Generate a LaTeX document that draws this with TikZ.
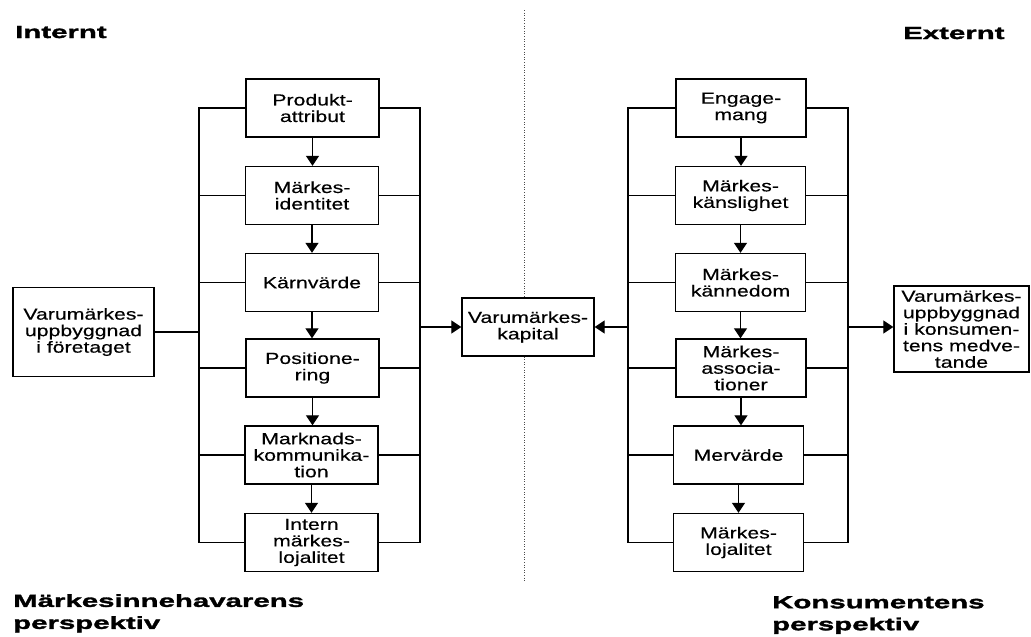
\documentclass[tikz,border=0pt]{standalone}
\usepackage{fontspec}
\usetikzlibrary{arrows.meta}
\newfontfamily\bodyfont{Liberation Sans}[FakeStretch=1.33,FakeBold=0.4]
\newfontfamily\headfont{Liberation Sans Bold}[FakeStretch=1.68,FakeBold=1.8]
\tikzset{
  box/.style={draw, line width=1.3pt, rectangle, minimum width=133pt, minimum height=58pt,
    inner sep=0pt, align=center, font=\bodyfont\fontsize{16}{16.5}\selectfont},
  rbox/.style={box, minimum width=130pt},
  conn/.style={line width=1.1pt},
  arr/.style={conn, -{Triangle[length=10pt,width=13pt]}},
  head/.style={inner sep=0pt, align=left, font=\headfont\fontsize{17.5}{22}\selectfont},
  divider/.style={line width=0.8pt, dash pattern=on 1pt off 1.6pt, black!70}
}
\begin{document}
\begin{tikzpicture}[x=1pt,y=-1pt]
\useasboundingbox (0,0) rectangle (1031,637);
% headings
\node[head, anchor=base west] (hint) at (15,38) {Internt};
\node[head, anchor=base west] (hext) at (903,39) {Externt};
\node[head, anchor=north west] (hmi) at (13,594) {Märkesinnehavarens\\perspektiv};
\node[head, anchor=north west] (hko) at (772,596) {Konsumentens\\perspektiv};
% left column
\node[box] (L1) at (312.5,108) {Produkt-\\attribut};
\node[box] (L2) at (312,195.5) {Märkes-\\identitet};
\node[box] (L3) at (312,282.5) {Kärnvärde};
\node[box] (L4) at (312.5,368) {Positione-\\ring};
\node[box] (L5) at (311.5,455) {Marknads-\\kommunika-\\tion};
\node[box] (L6) at (311.5,542.5) {Intern\\märkes-\\lojalitet};
% right column
\node[rbox] (R1) at (741,108) {Engage-\\mang};
\node[rbox] (R2) at (740.5,195.5) {Märkes-\\känslighet};
\node[rbox] (R3) at (740.5,282.5) {Märkes-\\kännedom};
\node[rbox] (R4) at (741,368) {Märkes-\\associa-\\tioner};
\node[rbox] (R5) at (738.5,455) {Mervärde};
\node[rbox] (R6) at (738.5,542.5) {Märkes-\\lojalitet};
% side and centre boxes
\node[box, minimum width=141pt, minimum height=89pt] (LS) at (83.5,332) {Varumärkes-\\uppbyggnad\\i företaget};
\node[box, minimum width=132pt, minimum height=58pt] (K) at (528,327) {Varumärkes-\\kapital};
\node[box, minimum width=135pt, minimum height=86pt] (RS) at (961.5,329) {Varumärkes-\\uppbyggnad\\i konsumen-\\tens medve-\\tande};
% bus coordinates
\coordinate (LL) at (199,0);
\coordinate (LR) at (420,0);
\coordinate (RL) at (628,0);
\coordinate (RR) at (848,0);
% left buses
\draw[conn] (L1.west) -- (L1.west -| LL) -- (L6.west -| LL) -- (L6.west);
\draw[conn] (L1.east) -- (L1.east -| LR) -- (L6.east -| LR) -- (L6.east);
\foreach \n in {L2,L3,L4,L5}{
  \draw[conn] (\n.west) -- (\n.west -| LL);
  \draw[conn] (\n.east) -- (\n.east -| LR);
}
% right buses
\draw[conn] (R1.west) -- (R1.west -| RL) -- (R6.west -| RL) -- (R6.west);
\draw[conn] (R1.east) -- (R1.east -| RR) -- (R6.east -| RR) -- (R6.east);
\foreach \n in {R2,R3,R4,R5}{
  \draw[conn] (\n.west) -- (\n.west -| RL);
  \draw[conn] (\n.east) -- (\n.east -| RR);
}
% vertical arrows
\foreach \a/\b in {L1/L2,L2/L3,L3/L4,L4/L5,L5/L6,R1/R2,R2/R3,R3/R4,R4/R5,R5/R6}{
  \draw[arr] (\a.south) -- (\a.south |- \b.north);
}
% side connections
\draw[conn] (LS.east) -- (LS.east -| LL);
\draw[arr] (K.west -| LR) -- (K.west);
\draw[arr] (K.east -| RL) -- (K.east);
\draw[arr] (K.east -| RR) -- (K.east -| RS.west);
% divider
\coordinate (dtop) at (524,10);
\coordinate (dbot) at (524,582);
\draw[divider] (dtop) -- (dtop |- K.north);
\draw[divider] (dtop |- K.south) -- (dbot);
\end{tikzpicture}
\end{document}
